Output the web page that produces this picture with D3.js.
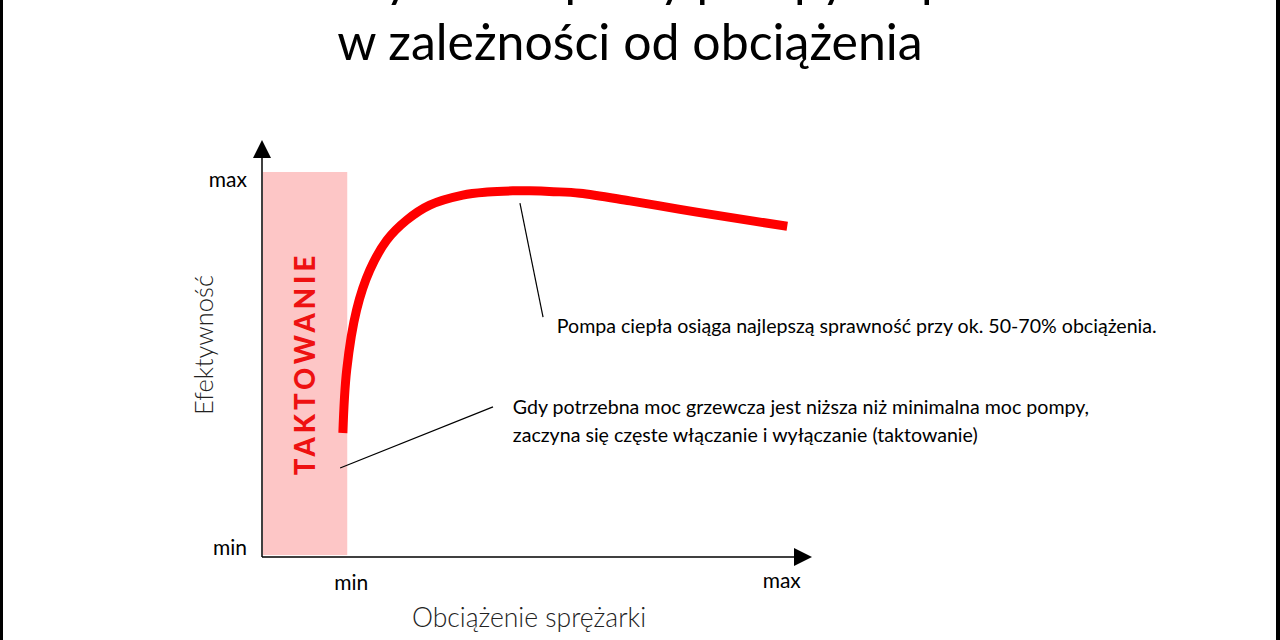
<!DOCTYPE html>
<html>
<head>
<meta charset="utf-8">
<script src="https://d3js.org/d3.v7.min.js"></script>
<style>
  body { margin: 0; background: #fff; }
  text { font-family: Lato, "Open Sans", sans-serif; }
</style>
</head>
<body>
<div id="my_dataviz"></div>
<script>
// load (% of x axis) and efficiency (% of y band)
var loadValues = [14.7, 15.4, 17.2, 19.6, 22.7, 26.3, 30.5, 36.5, 41.0, 45.6, 48.7, 53.0, 57.8, 66.9, 76.0, 85.1, 95.5];
var effValues  = [32.2, 48.6, 64.2, 74.5, 82.3, 87.5, 91.4, 94.0, 94.8, 95.1, 95.1, 94.9, 94.5, 92.5, 90.3, 88.2, 85.9];

var minLoad = 15.5;           // minimal compressor load (edge of cycling zone)
var yTicks = ["min", "max"];
var xTicks = ["min", "max"];

var titleLines = ["Efektywność pracy pompy ciepła", "w zależności od obciążenia"];
var xTitle = "Obciążenie sprężarki";
var yTitle = "Efektywność";
var zoneLabel = "TAKTOWANIE";

// annotations: point on chart -> end of leader line -> text
var notes = [
  {from: [46.9, 91.9], to: [51.1, 62.3], text: [53.6, 58.2],
   lines: ["Pompa ciepła osiąga najlepszą sprawność przy ok. 50-70% obciążenia."]},
  {from: [14.2, 23.1], to: [42.0, 39.0], text: [45.6, 37.1],
   lines: ["Gdy potrzebna moc grzewcza jest niższa niż minimalna moc pompy,",
           "zaczyna się częste włączanie i wyłączanie (taktowanie)"]}
];

function draw() {
  var W = 1280, H = 640;

  var svg = d3.select("#my_dataviz")
    .append("svg")
      .attr("width", W)
      .attr("height", H);

  // frame bars on the sides
  svg.append("rect").attr("x", 0).attr("y", 0).attr("width", 3).attr("height", H).attr("fill", "#000");
  svg.append("rect").attr("x", W - 4).attr("y", 0).attr("width", 4).attr("height", H).attr("fill", "#000");

  // title (first line is cut by the top edge)
  svg.selectAll(".title")
    .data(titleLines)
    .enter()
    .append("text")
      .attr("class", "title")
      .attr("x", 630)
      .attr("y", function(d, i) { return -4 + i * 64; })
      .attr("text-anchor", "middle")
      .attr("font-size", 50)
      .attr("fill", "#000")
      .text(function(d) { return d; });

  var x = d3.scaleLinear().domain([0, 100]).range([262, 812]);
  var y = d3.scaleLinear().domain([0, 100]).range([557, 172]);

  // cycling zone
  svg.append("rect")
    .attr("x", x(0) + 1)
    .attr("y", y(100))
    .attr("width", x(minLoad) - x(0) - 1)
    .attr("height", y(0.5) - y(100))
    .attr("fill", "#fdc6c6");

  svg.append("text")
    .attr("transform", "translate(" + (x(minLoad / 2) + 10) + "," + (y(50) - 1) + ") rotate(-90)")
    .attr("text-anchor", "middle")
    .attr("font-size", 27.5)
    .attr("font-weight", 900)
    .attr("letter-spacing", 4)
    .attr("fill", "#ee1111")
    .text(zoneLabel);

  // axes with arrow heads
  var axis = svg.append("g").attr("stroke", "#000").attr("stroke-width", 1.5);
  axis.append("line").attr("x1", x(0)).attr("y1", y(0)).attr("x2", x(0)).attr("y2", 152);
  axis.append("line").attr("x1", x(0)).attr("y1", y(0)).attr("x2", 800).attr("y2", y(0));
  svg.append("path")
    .attr("d", "M" + x(0) + ",140L" + (x(0) + 9) + ",158L" + (x(0) - 9) + ",158Z")
    .attr("fill", "#000");
  svg.append("path")
    .attr("d", "M812," + y(0) + "L794," + (y(0) - 9) + "L794," + (y(0) + 9) + "Z")
    .attr("fill", "#000");

  // tick labels
  svg.selectAll(".ytick")
    .data(yTicks)
    .enter()
    .append("text")
      .attr("x", 247)
      .attr("y", function(d, i) { return i === 0 ? y(0) - 2 : y(100) + 15; })
      .attr("text-anchor", "end")
      .attr("font-size", 21)
      .text(function(d) { return d; });

  svg.selectAll(".xtick")
    .data(xTicks)
    .enter()
    .append("text")
      .attr("x", function(d, i) { return i === 0 ? x(minLoad) + 4 : x(94.5); })
      .attr("y", function(d, i) { return i === 0 ? 590 : 588; })
      .attr("text-anchor", "middle")
      .attr("font-size", 21)
      .text(function(d) { return d; });

  // axis titles
  svg.append("text")
    .attr("x", 529)
    .attr("y", 627)
    .attr("text-anchor", "middle")
    .attr("font-size", 26.5)
    .attr("font-weight", 300)
    .attr("fill", "#222")
    .text(xTitle);

  svg.append("text")
    .attr("transform", "translate(213,345) rotate(-90)")
    .attr("text-anchor", "middle")
    .attr("font-size", 25.5)
    .attr("font-weight", 300)
    .attr("fill", "#222")
    .text(yTitle);

  // efficiency curve
  var pts = loadValues.map(function(d, i) { return [d, effValues[i]]; });
  var line = d3.line()
    .x(function(d) { return x(d[0]); })
    .y(function(d) { return y(d[1]); })
    .curve(d3.curveCatmullRom.alpha(0.5));

  svg.append("path")
    .datum(pts)
    .attr("d", line)
    .attr("fill", "none")
    .attr("stroke", "#ff0000")
    .attr("stroke-width", 9);

  // annotations
  notes.forEach(function(n) {
    svg.append("line")
      .attr("x1", x(n.from[0])).attr("y1", y(n.from[1]))
      .attr("x2", x(n.to[0])).attr("y2", y(n.to[1]))
      .attr("stroke", "#000")
      .attr("stroke-width", 1.2);
    svg.selectAll(null)
      .data(n.lines)
      .enter()
      .append("text")
        .attr("x", x(n.text[0]))
        .attr("y", function(d, i) { return y(n.text[1]) + i * 28; })
        .attr("font-size", 19.6)
        .attr("fill", "#000")
        .text(function(d) { return d; });
  });
}

window.onload = draw;
</script>
</body>
</html>
